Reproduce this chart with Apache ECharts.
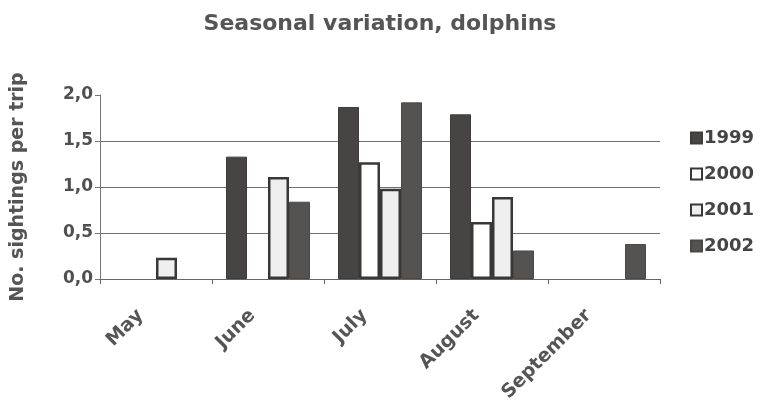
<!DOCTYPE html>
<html>
<head>
<meta charset="utf-8">
<script src="https://cdn.jsdelivr.net/npm/echarts@6/dist/echarts.min.js"></script>
<style>
html,body{margin:0;padding:0;background:#fff;}
#chart{width:763px;height:410px;}
</style>
</head>
<body>
<div id="chart"></div>
<script>
var months = ['May', 'June', 'July', 'August', 'September'];
var years = ['1999', '2000', '2001', '2002'];
var v1999 = [null, 1.33, 1.87, 1.79, null];
var v2000 = [null, null, 1.27, 0.62, null];
var v2001 = [0.23, 1.11, 0.98, 0.89, null];
var v2002 = [null, 0.84, 1.92, 0.31, 0.38];
var yTicks = ['0,0', '0,5', '1,0', '1,5', '2,0'];

var FONT = 'DejaVu Sans';
var styles = [
  {color: '#474444', borderColor: '#3e3b3b', borderWidth: 1},
  {color: '#ffffff', borderColor: '#3a3737', borderWidth: 2.5},
  {color: '#efefef', borderColor: '#3a3737', borderWidth: 2.5},
  {color: '#555252', borderColor: '#4a4747', borderWidth: 1}
];
var values = [v1999, v2000, v2001, v2002];

var chart = echarts.init(document.getElementById('chart'), null, {renderer: 'canvas'});
chart.setOption({
  backgroundColor: '#ffffff',
  animation: false,
  title: {
    text: 'Seasonal variation, dolphins',
    left: 375, top: 8, textAlign: 'center',
    textStyle: {fontFamily: FONT, fontWeight: 'bold', fontSize: 22, color: '#555555'}
  },
  legend: {
    orient: 'vertical',
    left: 690, top: 129, padding: 0,
    itemWidth: 11, itemHeight: 11, itemGap: 18,
    icon: 'rect',
    data: years,
    textStyle: {fontFamily: FONT, fontWeight: 'bold', fontSize: 18, color: '#444444', padding: [0, 0, 0, -3]}
  },
  grid: {left: 100, right: 103, top: 95, bottom: 131, containLabel: false},
  xAxis: {
    type: 'category',
    data: months,
    boundaryGap: true,
    axisLine: {lineStyle: {color: '#666666', width: 1}},
    axisTick: {show: true, length: 5, lineStyle: {color: '#666666'}},
    axisLabel: {
      rotate: 45, margin: 18, interval: 0,
      fontFamily: FONT, fontWeight: 'bold', fontSize: 19, color: '#555555',
      padding: [0, 22, 0, 0]
    }
  },
  yAxis: {
    type: 'value',
    min: 0, max: 2, interval: 0.5,
    name: 'No. sightings per trip',
    nameLocation: 'middle',
    nameGap: 72,
    nameRotate: 90,
    nameTextStyle: {fontFamily: FONT, fontWeight: 'bold', fontSize: 19, color: '#555555'},
    axisLine: {show: true, lineStyle: {color: '#777777', width: 1}},
    axisTick: {show: true, length: 5, lineStyle: {color: '#777777'}},
    axisLabel: {
      margin: 7,
      fontFamily: FONT, fontWeight: 'bold', fontSize: 17, color: '#505050',
      formatter: function (v) { return yTicks[Math.round(v / 0.5)]; }
    },
    splitLine: {show: true, showMaxLine: false, showMinLine: false, lineStyle: {color: '#6f6f6f', width: 1}}
  },
  series: years.map(function (y, i) {
    return {
      name: y,
      type: 'bar',
      data: values[i],
      barGap: '0%',
      barCategoryGap: '25%',
      itemStyle: styles[i]
    };
  })
});
</script>
</body>
</html>
